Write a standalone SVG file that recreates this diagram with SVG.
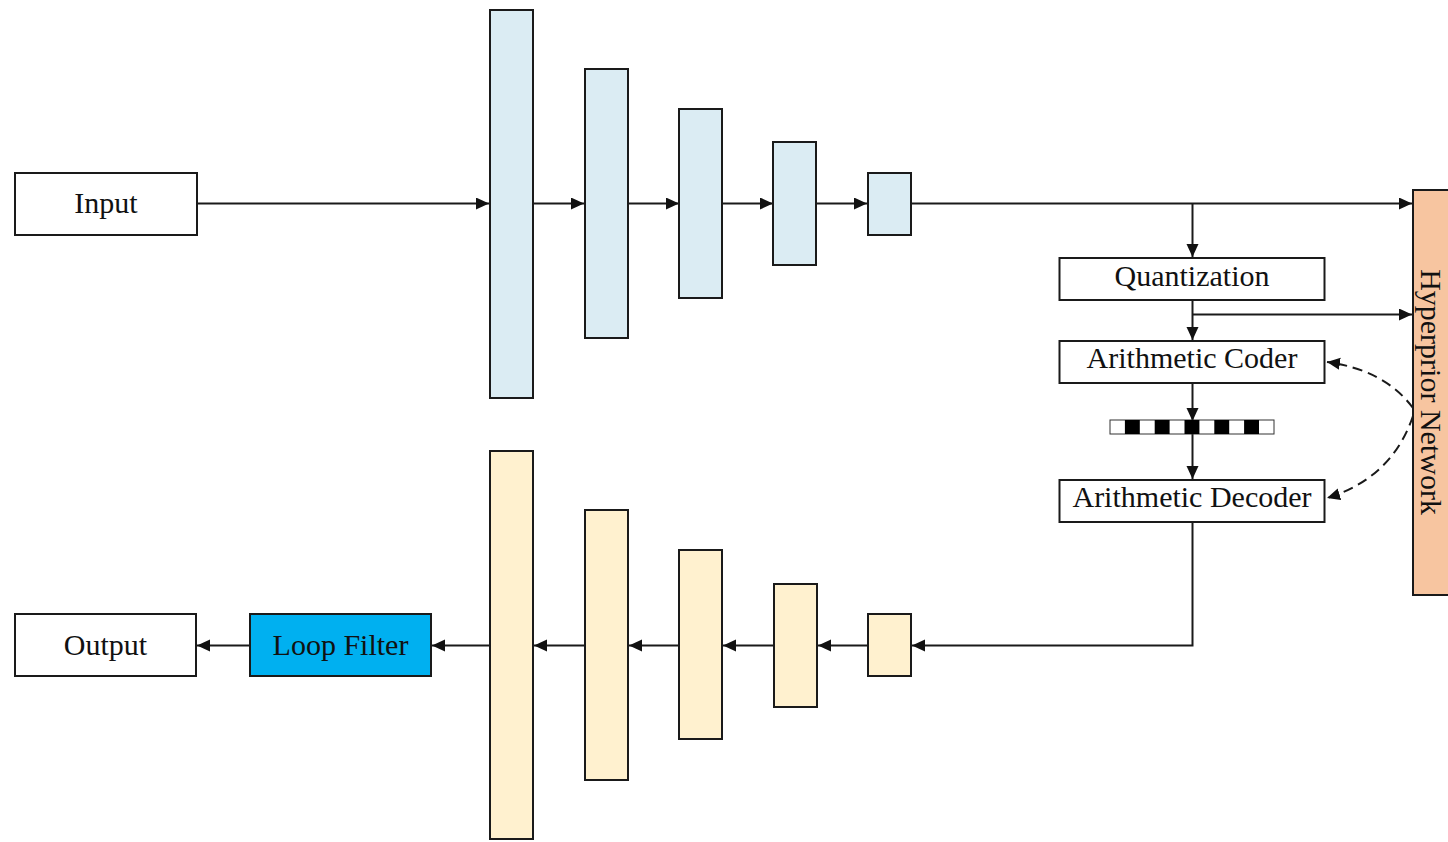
<svg xmlns="http://www.w3.org/2000/svg" width="1448" height="842" viewBox="0 0 1448 842">
  <style>
    .box { fill: #ffffff; stroke: #1a1a1a; stroke-width: 2; }
    .enc { fill: #dbecf3; stroke: #1a1a1a; stroke-width: 2; }
    .dec { fill: #fff1cf; stroke: #1a1a1a; stroke-width: 2; }
    .lf { fill: #00b0f0; stroke: #1a1a1a; stroke-width: 2; }
    .hyper { fill: #f7c5a0; stroke: #1a1a1a; stroke-width: 2; }
    .lbl { font-family: "Liberation Serif", "Times New Roman", serif; font-size: 30px; fill: #111111; text-anchor: middle; }
    .wire { fill: none; stroke: #1a1a1a; stroke-width: 2; }
    .dash { fill: none; stroke: #1a1a1a; stroke-width: 2; stroke-dasharray: 10 6; }
  </style>
  <defs>
    <marker id="arrow" markerUnits="userSpaceOnUse" markerWidth="15" markerHeight="13" refX="13" refY="6" orient="auto">
      <path d="M0,0 L13,6 L0,12 z" fill="#111111"/>
    </marker>
  </defs>

  <rect width="1448" height="842" fill="#ffffff"/>

  <!-- connectors -->
  <g id="connectors">
    <line class="wire" x1="197" y1="203.5" x2="489" y2="203.5" marker-end="url(#arrow)"/>
    <line class="wire" x1="533" y1="203.5" x2="584" y2="203.5" marker-end="url(#arrow)"/>
    <line class="wire" x1="628" y1="203.5" x2="679" y2="203.5" marker-end="url(#arrow)"/>
    <line class="wire" x1="722" y1="203.5" x2="773" y2="203.5" marker-end="url(#arrow)"/>
    <line class="wire" x1="816" y1="203.5" x2="867" y2="203.5" marker-end="url(#arrow)"/>
    <line class="wire" x1="911" y1="203.5" x2="1412" y2="203.5" marker-end="url(#arrow)"/>
    <line class="wire" x1="1192.5" y1="203.5" x2="1192.5" y2="257" marker-end="url(#arrow)"/>
    <line class="wire" x1="1192.5" y1="300" x2="1192.5" y2="340" marker-end="url(#arrow)"/>
    <line class="wire" x1="1192.5" y1="314.5" x2="1412" y2="314.5" marker-end="url(#arrow)"/>
    <line class="wire" x1="1192.5" y1="383" x2="1192.5" y2="421" marker-end="url(#arrow)"/>
    <line class="wire" x1="1192.5" y1="434" x2="1192.5" y2="479" marker-end="url(#arrow)"/>
    <polyline class="wire" points="1192.5,522 1192.5,645.5 912,645.5" marker-end="url(#arrow)"/>
    <line class="wire" x1="868" y1="645.5" x2="818" y2="645.5" marker-end="url(#arrow)"/>
    <line class="wire" x1="774" y1="645.5" x2="723" y2="645.5" marker-end="url(#arrow)"/>
    <line class="wire" x1="679" y1="645.5" x2="629" y2="645.5" marker-end="url(#arrow)"/>
    <line class="wire" x1="585" y1="645.5" x2="534" y2="645.5" marker-end="url(#arrow)"/>
    <line class="wire" x1="490" y1="645.5" x2="432" y2="645.5" marker-end="url(#arrow)"/>
    <line class="wire" x1="250" y1="645.5" x2="197" y2="645.5" marker-end="url(#arrow)"/>
    <path class="dash" d="M1413,408 Q1385,370 1327,362" marker-end="url(#arrow)"/>
    <path class="dash" d="M1413,416 Q1392,478 1327,498" marker-end="url(#arrow)"/>
  </g>

  <g id="input">
    <rect class="box" x="15" y="173" width="182" height="62"/>
    <text class="lbl" x="106" y="213">Input</text>
  </g>

  <g id="encoder">
    <rect class="enc" x="490" y="10" width="43" height="388"/>
    <rect class="enc" x="585" y="69" width="43" height="269"/>
    <rect class="enc" x="679" y="109" width="43" height="189"/>
    <rect class="enc" x="773" y="142" width="43" height="123"/>
    <rect class="enc" x="868" y="173" width="43" height="62"/>
  </g>

  <g id="quantization">
    <rect class="box" x="1059.5" y="258" width="265" height="42"/>
    <text class="lbl" x="1192" y="286">Quantization</text>
  </g>

  <g id="arithmetic-coder">
    <rect class="box" x="1059.5" y="341" width="265" height="42"/>
    <text class="lbl" x="1192" y="368">Arithmetic Coder</text>
  </g>

  <g id="bitstream">
    <rect x="1110" y="420" width="164" height="14" fill="#ffffff" stroke="#333333" stroke-width="1"/>
    <rect x="1124.9" y="420" width="14.9" height="14" fill="#000000"/>
    <rect x="1154.7" y="420" width="14.9" height="14" fill="#000000"/>
    <rect x="1184.5" y="420" width="14.9" height="14" fill="#000000"/>
    <rect x="1214.3" y="420" width="14.9" height="14" fill="#000000"/>
    <rect x="1244.1" y="420" width="14.9" height="14" fill="#000000"/>
  </g>

  <g id="arithmetic-decoder">
    <rect class="box" x="1059.5" y="480" width="265" height="42"/>
    <text class="lbl" x="1192" y="507">Arithmetic Decoder</text>
  </g>

  <g id="hyperprior">
    <rect class="hyper" x="1413" y="190" width="40" height="405"/>
    <text class="lbl" transform="translate(1421,392) rotate(90)" x="0" y="0">Hyperprior Network</text>
  </g>

  <g id="decoder">
    <rect class="dec" x="490" y="451" width="43" height="388"/>
    <rect class="dec" x="585" y="510" width="43" height="270"/>
    <rect class="dec" x="679" y="550" width="43" height="189"/>
    <rect class="dec" x="774" y="584" width="43" height="123"/>
    <rect class="dec" x="868" y="614" width="43" height="62"/>
  </g>

  <g id="loop-filter">
    <rect class="lf" x="250" y="614" width="181" height="62"/>
    <text class="lbl" x="340.5" y="655">Loop Filter</text>
  </g>

  <g id="output">
    <rect class="box" x="15" y="614" width="181" height="62"/>
    <text class="lbl" x="105.5" y="655">Output</text>
  </g>
</svg>
